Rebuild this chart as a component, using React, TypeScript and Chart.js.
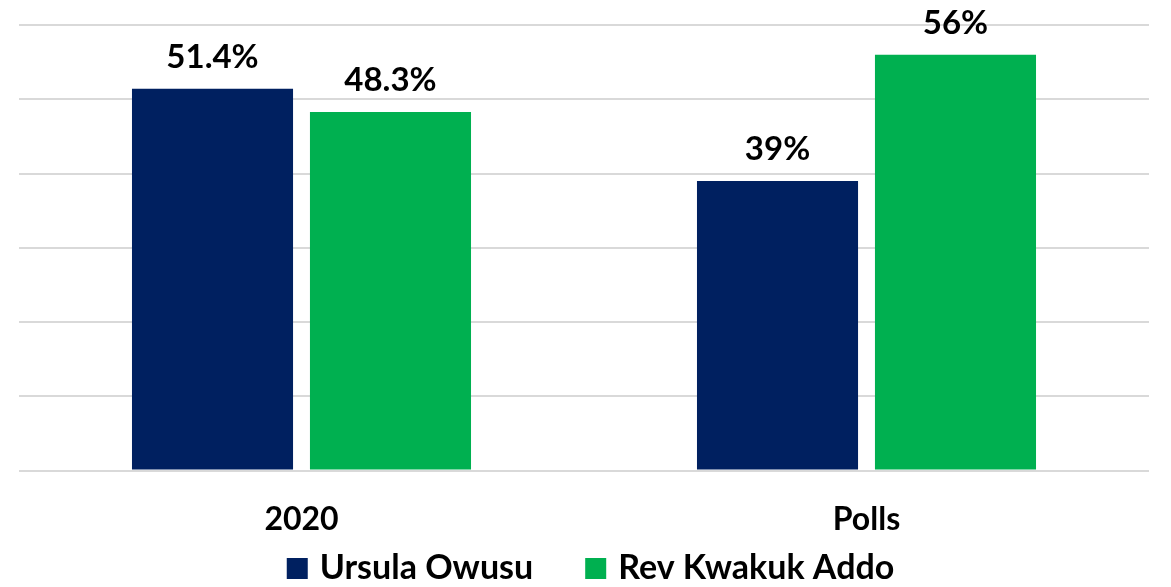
import React, { useEffect, useRef } from "react";
import { Chart, registerables } from "chart.js";

Chart.register(...registerables);

const categories = ["2020", "Polls"];
const seriesNames = ["Ursula Owusu", "Rev Kwakuk Addo"];
const ursulaValues = [51.4, 39];
const addoValues = [48.3, 56];
const seriesColors = ["#002060", "#00B050"];

const FONT = "Lato, 'Open Sans', 'Liberation Sans', sans-serif";

const valueLabelPlugin = {
  id: "valueLabels",
  afterDatasetsDraw(chart: any) {
    const ctx = chart.ctx;
    ctx.save();
    ctx.font = `700 33px ${FONT}`;
    ctx.fillStyle = "#000000";
    ctx.textAlign = "center";
    ctx.textBaseline = "alphabetic";
    chart.data.datasets.forEach((ds: any, di: number) => {
      const meta = chart.getDatasetMeta(di);
      meta.data.forEach((bar: any, i: number) => {
        const v = ds.data[i];
        ctx.fillText(`${v}%`, bar.x, bar.y - 21);
      });
    });
    ctx.restore();
  },
};

const legendPlugin = {
  id: "customLegend",
  afterDraw(chart: any) {
    const ctx = chart.ctx;
    ctx.save();
    ctx.font = `700 34px ${FONT}`;
    const box = 21;
    const boxGap = 12;
    const itemGap = 52;
    const items = chart.data.datasets.map((ds: any) => ({
      text: ds.label,
      color: ds.backgroundColor,
      w: ctx.measureText(ds.label).width,
    }));
    const total =
      items.reduce((s: number, it: any) => s + box + boxGap + it.w, 0) +
      itemGap * (items.length - 1);
    let x = chart.width / 2 - total / 2 + 5;
    const boxTop = 558;
    const textBaseline = 579;
    items.forEach((it: any) => {
      ctx.fillStyle = it.color;
      ctx.fillRect(x, boxTop, box, box);
      x += box + boxGap;
      ctx.fillStyle = "#000000";
      ctx.textAlign = "left";
      ctx.textBaseline = "alphabetic";
      ctx.fillText(it.text, x, textBaseline);
      x += it.w + itemGap;
    });
    ctx.restore();
  },
};

export default function App() {
  const canvasRef = useRef<HTMLCanvasElement | null>(null);

  useEffect(() => {
    if (!canvasRef.current) return;
    const chart = new Chart(canvasRef.current, {
      type: "bar",
      data: {
        labels: categories,
        datasets: [
          {
            label: seriesNames[0],
            data: ursulaValues,
            backgroundColor: seriesColors[0],
            categoryPercentage: 0.63,
            barPercentage: 0.905,
          },
          {
            label: seriesNames[1],
            data: addoValues,
            backgroundColor: seriesColors[1],
            categoryPercentage: 0.63,
            barPercentage: 0.905,
          },
        ],
      },
      options: {
        animation: false,
        responsive: false,
        maintainAspectRatio: false,
        layout: { padding: { left: 19, right: 22, top: 25, bottom: 18 } },
        plugins: {
          legend: { display: false },
          tooltip: { enabled: false },
        },
        scales: {
          x: {
            grid: { display: false, drawTicks: false },
            border: { display: false },
            ticks: {
              color: "#000000",
              padding: 30,
              font: { family: FONT, size: 32, weight: "bold" },
            },
          },
          y: {
            min: 0,
            max: 60,
            grid: { color: "#d9d9d9", lineWidth: 2, drawTicks: false },
            border: { display: false },
            ticks: { display: false, stepSize: 10 },
          },
        },
      },
      plugins: [valueLabelPlugin, legendPlugin],
    });
    return () => chart.destroy();
  }, []);

  return (
    <div style={{ position: "absolute", left: 0, top: 0, width: 1171, height: 587, background: "#ffffff" }}>
      <canvas ref={canvasRef} width={1171} height={587} style={{ display: "block" }} />
    </div>
  );
}
